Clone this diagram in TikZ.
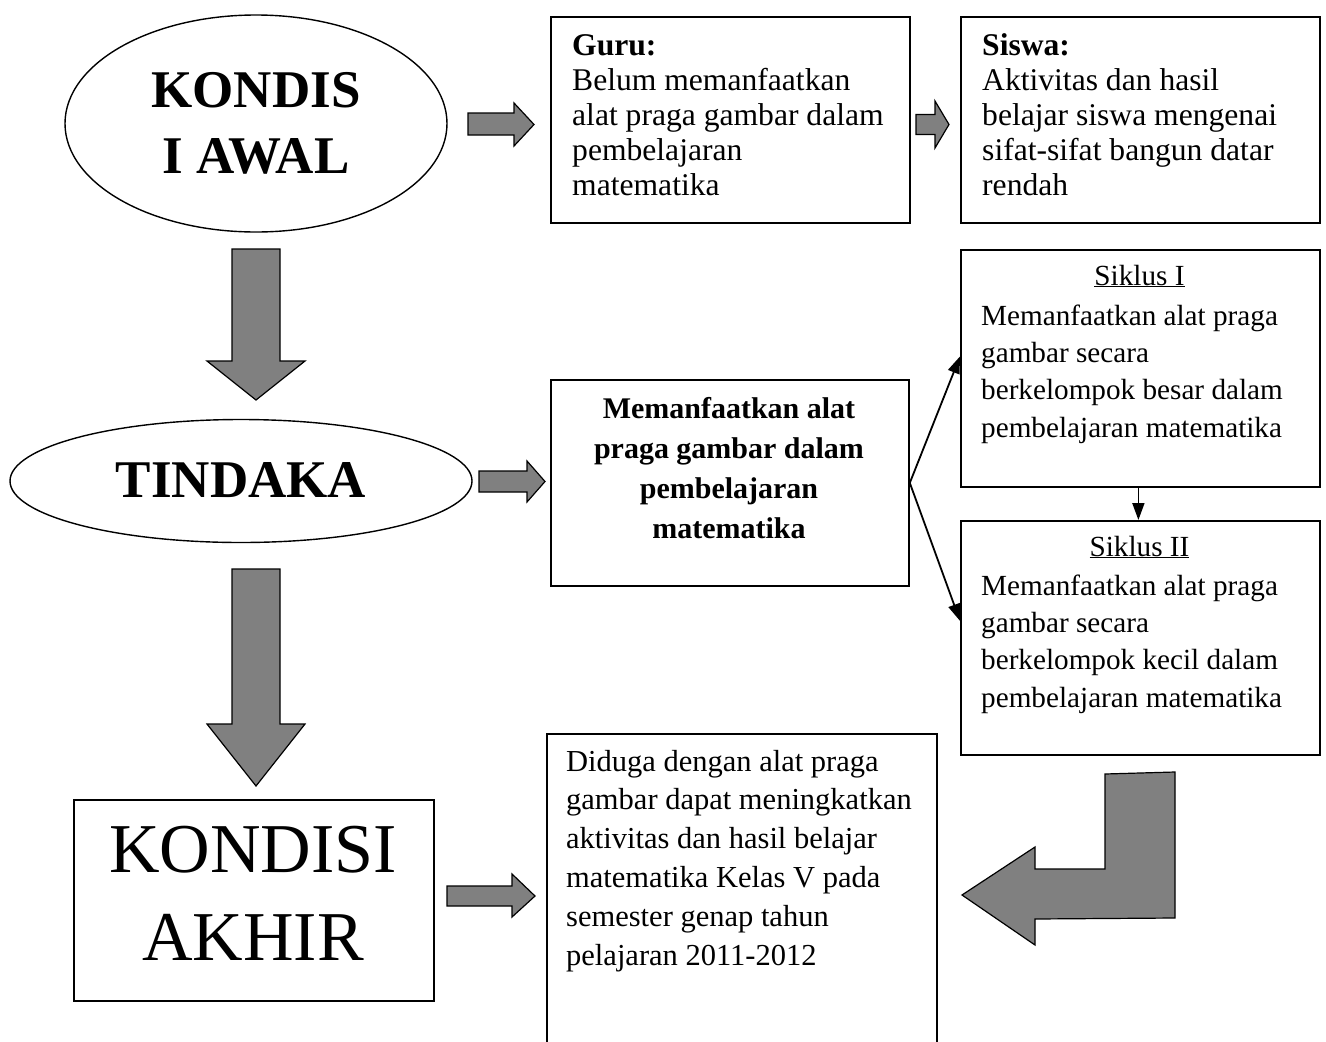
\documentclass[tikz,border=0pt]{standalone}
\usepackage{fontspec}
\setmainfont{Liberation Serif}
\usetikzlibrary{shapes.geometric,arrows.meta}
\definecolor{blockgray}{HTML}{808080}
\begin{document}
\begin{tikzpicture}[x=1pt,y=-1pt,
  box/.style={draw, line width=1.8pt, anchor=north west, inner sep=0pt},
  oval/.style={draw, ellipse, line width=1.4pt, inner sep=0pt},
  blk/.style={draw, line width=1.2pt, fill=blockgray, line join=miter},
  body/.style={anchor=base west, inner sep=0pt, align=flush left, text width=400pt},
  bigtitle/.style={anchor=base, inner sep=0pt, font=\fontsize{53}{66}\selectfont\bfseries},
  siktitle/.style={anchor=base, inner sep=0pt, font=\fontsize{29.2}{36}\selectfont},
  link/.style={line width=1.8pt, -{Triangle[length=17pt,width=12pt]}},
]
\useasboundingbox[fill=white] (0,0) rectangle (1326,1042);

% ---- ellipses ----
\node[oval, minimum width=382pt, minimum height=217pt] (awal) at (256,123.5) {};
\node[bigtitle] (awalA) at (256,107) {KONDIS};
\node[bigtitle] (awalB) at (256,173) {I AWAL};

\node[oval, minimum width=462pt, minimum height=123pt] (tindakan) at (241,481) {};
\node[bigtitle] (tindakanT) at (241,497) {TINDAKA};

% ---- boxes ----
\node[box, minimum width=359pt, minimum height=206pt] (guru) at (550,16) {};
\node[box, minimum width=359pt, minimum height=206pt] (siswa) at (960,16) {};
\node[box, minimum width=358pt, minimum height=206pt] (mid) at (550,379) {};
\node[box, minimum width=359pt, minimum height=237pt] (sik1) at (960,249) {};
\node[box, minimum width=359pt, minimum height=234pt] (sik2) at (960,520) {};
\node[box, minimum width=390pt, minimum height=330pt] (diduga) at (546,733) {};
\node[box, minimum width=360pt, minimum height=201pt] (akhir) at (73,799) {};

% ---- texts ----
\node[body, font=\fontsize{31.6}{35}\selectfont] (guruT) at (572,55)
  {\textbf{Guru:}\\Belum memanfaatkan\\alat praga gambar dalam\\pembelajaran\\matematika};
\node[body, font=\fontsize{31.6}{35}\selectfont] (siswaT) at (982,55)
  {\textbf{Siswa:}\\Aktivitas dan hasil\\belajar siswa mengenai\\sifat-sifat bangun datar\\rendah};
\node[anchor=base, inner sep=0pt, text width=358pt, align=flush center,
  font=\fontsize{30}{40}\selectfont\bfseries] (midT) at (729,418)
  {Memanfaatkan alat\\praga gambar dalam\\pembelajaran\\matematika};
\node[siktitle] (sik1H) at (1139.5,285) {\underline{Siklus I}};
\node[body, font=\fontsize{29.2}{37.4}\selectfont] (sik1T) at (981,325)
  {Memanfaatkan alat praga\\gambar secara\\berkelompok besar dalam\\pembelajaran matematika};
\node[siktitle] (sik2H) at (1139.5,556) {\underline{Siklus II}};
\node[body, font=\fontsize{29.2}{37.4}\selectfont] (sik2T) at (981,595)
  {Memanfaatkan alat praga\\gambar secara\\berkelompok kecil dalam\\pembelajaran matematika};
\node[body, font=\fontsize{30.5}{38.8}\selectfont] (didugaT) at (566,771)
  {Diduga dengan alat praga\\gambar dapat meningkatkan\\aktivitas dan hasil belajar\\matematika Kelas V pada\\semester genap tahun\\pelajaran 2011-2012};
\node[anchor=base, inner sep=0pt, font=\fontsize{70}{88}\selectfont] (akhirA) at (253,872) {KONDISI};
\node[anchor=base, inner sep=0pt, font=\fontsize{70}{88}\selectfont] (akhirB) at (253,960) {AKHIR};

% ---- connectors ----
\draw[link] (mid.east) -- ([yshift=12pt]sik1.west);
\draw[link] (mid.east) -- ([yshift=17pt]sik2.west);
\draw[link] ([xshift=-2pt]sik1.south) -- ([xshift=-2pt]sik2.north);

% ---- block arrows ----
\draw[blk] (468,113) -- (514,113) -- (514,103) -- (534,124.5) -- (514,146) -- (514,135) -- (468,135) -- cycle;
\draw[blk] (916,114.5) -- (935,114.5) -- (935,101) -- (949,124.5) -- (935,148) -- (935,134.5) -- (916,134.5) -- cycle;
\draw[blk] (479,471) -- (527,471) -- (527,461) -- (545,481.5) -- (527,502) -- (527,492) -- (479,492) -- cycle;
\draw[blk] (447,886) -- (512,886) -- (512,874) -- (535,896) -- (512,917) -- (512,906) -- (447,906) -- cycle;
\draw[blk] (232,249) -- (280,249) -- (280,361) -- (305,361) -- (256,400) -- (207,361) -- (232,361) -- cycle;
\draw[blk] (232,569) -- (280,569) -- (280,724) -- (305,724) -- (256,786) -- (207,724) -- (232,724) -- cycle;
\draw[blk] (1105,774) -- (1175,772) -- (1175,918) -- (1035,919) -- (1035,945) -- (962,895) -- (1035,847) -- (1035,869) -- (1105,869) -- cycle;
\end{tikzpicture}
\end{document}
